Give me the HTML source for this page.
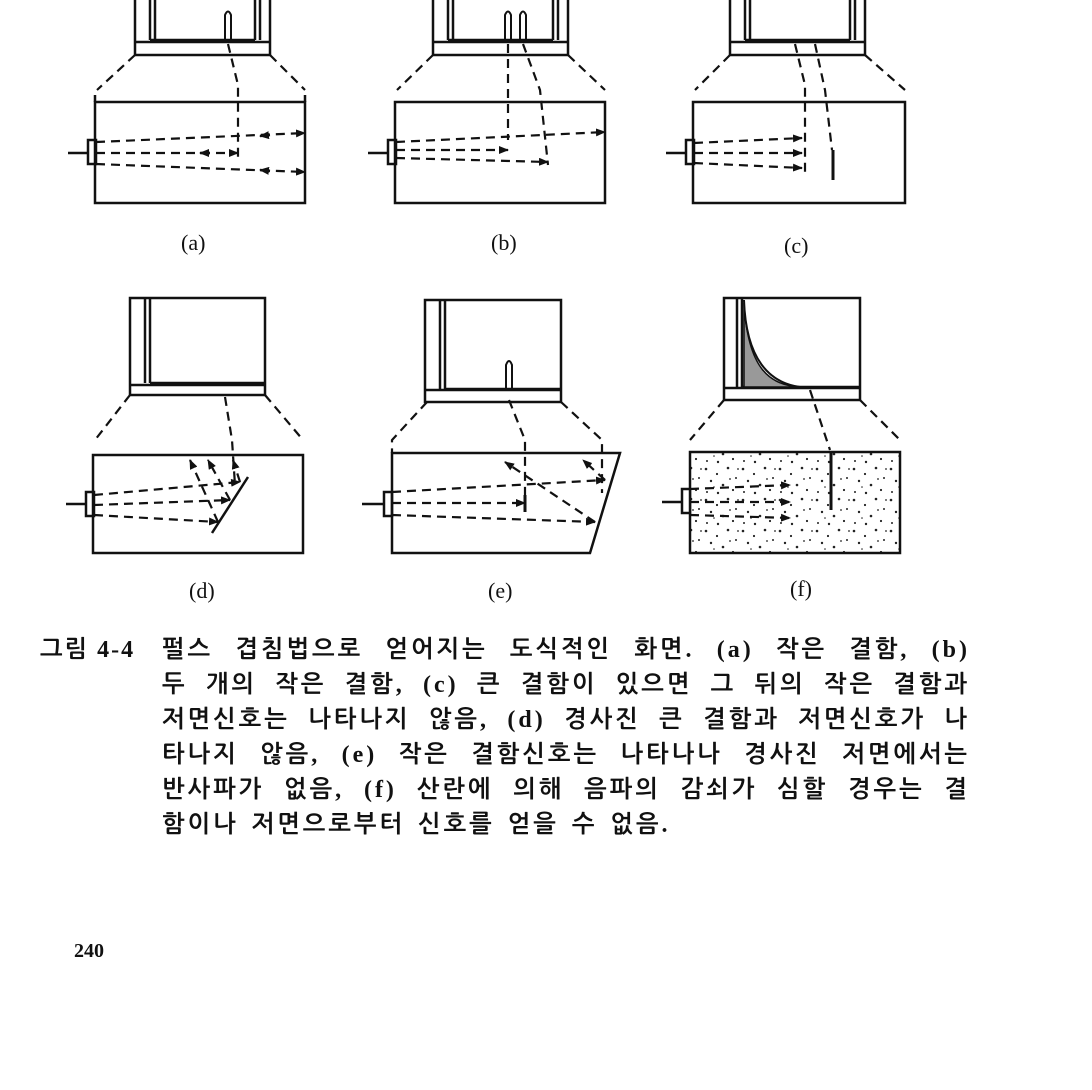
<!DOCTYPE html>
<html><head><meta charset="utf-8"><style>
html,body{margin:0;padding:0;background:#fff;}
body{width:1092px;height:1090px;position:relative;overflow:hidden;font-family:"Liberation Serif","Noto Serif CJK SC","Noto Sans CJK KR",serif;color:#111;}
.cap{position:absolute;font-size:24px;line-height:30px;font-weight:bold;letter-spacing:3px;white-space:nowrap;font-family:"Liberation Serif","NanumGothic","Noto Sans CJK KR",serif;}
.j{width:808px;text-align:justify;text-align-last:justify;}
.lab{position:absolute;font-size:22px;font-family:"Liberation Serif",serif;}
</style></head><body>
<svg width="1092" height="1090" style="position:absolute;left:0;top:0" fill="none" stroke="#111" stroke-width="2.5">
<defs>
<pattern id="dots" width="37" height="31" patternUnits="userSpaceOnUse">
<g fill="#222" stroke="none">
<circle cx="3" cy="4" r="1.3"/><circle cx="14" cy="9" r="1.1"/><circle cx="25" cy="3" r="1.3"/><circle cx="33" cy="13" r="1"/>
<circle cx="8" cy="16" r="1.2"/><circle cx="20" cy="20" r="1.3"/><circle cx="30" cy="25" r="1.1"/><circle cx="4" cy="27" r="1"/>
<circle cx="15" cy="28" r="1.2"/><circle cx="27" cy="14" r="0.9"/><circle cx="11" cy="22" r="0.8"/><circle cx="35" cy="4" r="0.9"/>
</g></pattern>
<marker id="ar" markerWidth="10" markerHeight="8" refX="9" refY="4" orient="auto" markerUnits="userSpaceOnUse"><path d="M0,0 L10,4 L0,8z" fill="#111" stroke="none"/></marker>
</defs>

<!-- ===== (a) ===== -->
<rect x="135" y="-5" width="135" height="60"/>
<path d="M150,-5 V40 M155,-5 V40 M150,40 H255 M255,-5 V40 M260,-5 V40 M135,42 H270"/>
<path d="M225,40 V15 Q228,8 231,15 V40" stroke-width="2"/>
<rect x="95" y="102" width="210" height="101"/>
<path d="M95,95 V102 M305,95 V102"/>
<rect x="88" y="140" width="8" height="24"/><path d="M68,153 H88"/>
<g stroke-dasharray="9,6" stroke-width="2.2">
<path d="M135,55 L97,90 M270,55 L305,90"/>
<path d="M228,44 L238,85 V160"/>
<path d="M96,142 L305,133" marker-end="url(#ar)"/>
<path d="M96,153 H238" marker-end="url(#ar)"/>
<path d="M96,164 L305,172" marker-end="url(#ar)"/>
</g>
<path d="M270,135 l-10,1" marker-end="url(#ar)"/><path d="M210,153 l-10,0" marker-end="url(#ar)"/><path d="M270,171 l-10,-1" marker-end="url(#ar)"/>

<!-- ===== (b) ===== -->
<rect x="433" y="-5" width="135" height="60"/>
<path d="M448,-5 V40 M453,-5 V40 M448,40 H553 M553,-5 V40 M558,-5 V40 M433,42 H568"/>
<path d="M505,40 V15 Q508,8 511,15 V40 M520,40 V15 Q523,8 526,15 V40" stroke-width="2"/>
<rect x="395" y="102" width="210" height="101"/>
<rect x="388" y="140" width="8" height="24"/><path d="M368,153 H388"/>
<g stroke-dasharray="9,6" stroke-width="2.2">
<path d="M433,55 L397,90 M568,55 L605,90"/>
<path d="M508,44 V140 M523,44 L540,90 L548,165"/>
<path d="M396,142 L605,132" marker-end="url(#ar)"/>
<path d="M396,150 H508" marker-end="url(#ar)"/>
<path d="M396,158 L548,162" marker-end="url(#ar)"/>
</g>

<!-- ===== (c) ===== -->
<rect x="730" y="-5" width="135" height="60"/>
<path d="M745,-5 V40 M750,-5 V40 M745,40 H850 M850,-5 V40 M855,-5 V40 M730,42 H865"/>
<rect x="693" y="102" width="212" height="101"/>
<rect x="686" y="140" width="8" height="24"/><path d="M666,153 H686"/>
<g stroke-dasharray="9,6" stroke-width="2.2">
<path d="M730,55 L695,90 M865,55 L905,90"/>
<path d="M795,44 L805,85 V172 M815,44 L825,90 L832,150"/>
<path d="M694,143 L802,138" marker-end="url(#ar)"/>
<path d="M694,153 H802" marker-end="url(#ar)"/>
<path d="M694,163 L802,168" marker-end="url(#ar)"/>
</g>
<path d="M833,150 V180" stroke-width="3"/>

<!-- ===== (d) ===== -->
<rect x="130" y="298" width="135" height="97"/>
<path d="M145,298 V383 M150,298 V383 M150,383 H265 M130,385 H265"/>
<rect x="93" y="455" width="210" height="98"/>
<rect x="86" y="492" width="8" height="24"/><path d="M66,504 H86"/>
<path d="M248,477 L212,533"/>
<g stroke-dasharray="9,6" stroke-width="2.2">
<path d="M130,395 L95,440 M265,395 L303,440"/>
<path d="M225,397 L232,440 L235,485"/>
<path d="M94,495 L240,482" marker-end="url(#ar)"/>
<path d="M94,505 L230,500" marker-end="url(#ar)"/>
<path d="M94,515 L218,522" marker-end="url(#ar)"/>
<path d="M240,482 L233,460" marker-end="url(#ar)"/>
<path d="M230,500 L208,460" marker-end="url(#ar)"/>
<path d="M218,522 L190,460" marker-end="url(#ar)"/>
</g>

<!-- ===== (e) ===== -->
<rect x="425" y="300" width="136" height="102"/>
<path d="M440,300 V389 M445,300 V389 M445,389 H561 M425,390 H561"/>
<path d="M506,389 V365 Q509,357 512,365 V389" stroke-width="2"/>
<path d="M392,453 H620 L590,553 H392 Z"/>
<rect x="384" y="492" width="8" height="24"/><path d="M362,504 H384"/>
<g stroke-dasharray="9,6" stroke-width="2.2">
<path d="M427,402 L392,440 V453 M561,402 L602,440 V493"/>
<path d="M509,400 L525,440 V510"/>
<path d="M392,492 L605,480" marker-end="url(#ar)"/>
<path d="M392,503 H525" marker-end="url(#ar)"/>
<path d="M392,515 L595,522" marker-end="url(#ar)"/>
<path d="M595,522 L505,462" marker-end="url(#ar)"/>
<path d="M605,480 L583,460" marker-end="url(#ar)"/>
</g>
<path d="M525,495 V512" stroke-width="3"/>

<!-- ===== (f) ===== -->
<rect x="724" y="298" width="136" height="102"/>
<path d="M737,298 V387 M742,298 V387 M742,387 H860 M724,388 H860"/>
<path d="M744,303 C748,370 770,385 800,387 L744,387 Z" fill="#999" stroke-width="1.5"/>
<path d="M744,300 C746,360 770,383 800,387" stroke-width="2"/>
<rect x="690" y="452" width="210" height="101" fill="url(#dots)"/>
<rect x="682" y="489" width="8" height="24" fill="#fff"/><path d="M662,502 H682"/>
<g stroke-dasharray="9,6" stroke-width="2.2">
<path d="M724,400 L690,440 M860,400 L900,440"/>
<path d="M810,390 L830,450"/>
<path d="M690,489 L790,485" marker-end="url(#ar)"/>
<path d="M690,502 H790" marker-end="url(#ar)"/>
<path d="M690,515 L790,518" marker-end="url(#ar)"/>
</g>
<path d="M831,452 V510" stroke-width="3"/>
</svg>

<div class="lab" style="left:181px;top:230px">(a)</div>
<div class="lab" style="left:491px;top:230px">(b)</div>
<div class="lab" style="left:784px;top:233px">(c)</div>
<div class="lab" style="left:189px;top:578px">(d)</div>
<div class="lab" style="left:488px;top:578px">(e)</div>
<div class="lab" style="left:790px;top:576px">(f)</div>

<div class="cap" style="left:40px;top:635px;letter-spacing:2px">그림 4-4</div>
<div class="cap j" style="left:162px;top:635px">펄스 겹침법으로 얻어지는 도식적인 화면. (a) 작은 결함, (b)</div>
<div class="cap j" style="left:162px;top:670px">두 개의 작은 결함, (c) 큰 결함이 있으면 그 뒤의 작은 결함과</div>
<div class="cap j" style="left:162px;top:705px">저면신호는 나타나지 않음, (d) 경사진 큰 결함과 저면신호가 나</div>
<div class="cap j" style="left:162px;top:740px">타나지 않음, (e) 작은 결함신호는 나타나나 경사진 저면에서는</div>
<div class="cap j" style="left:162px;top:775px">반사파가 없음, (f) 산란에 의해 음파의 감쇠가 심할 경우는 결</div>
<div class="cap" style="left:162px;top:810px;word-spacing:4px">함이나 저면으로부터 신호를 얻을 수 없음.</div>
<div class="cap" style="left:74px;top:936px;font-size:20px;letter-spacing:0">240</div>
</body></html>
